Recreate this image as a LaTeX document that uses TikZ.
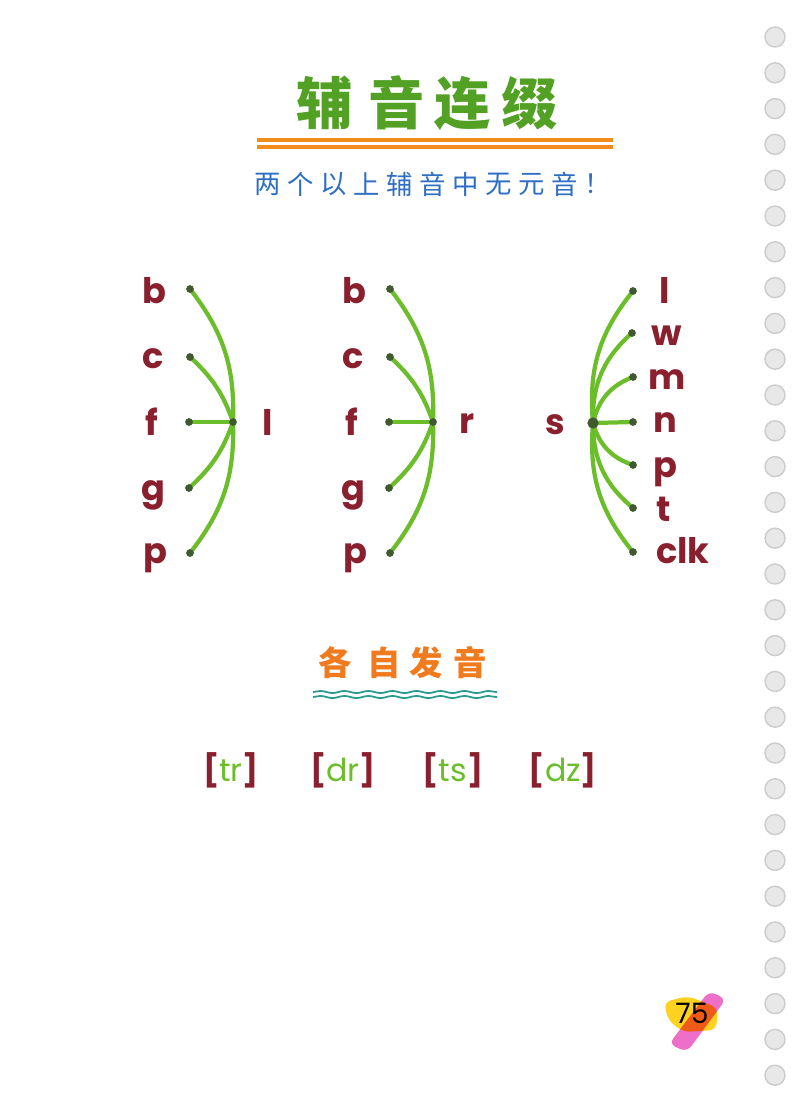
\documentclass[tikz,border=0pt]{standalone}
\usepackage{fontspec}
\setmainfont{Poppins}
\newfontfamily\cjk{Noto Sans CJK SC}
\usetikzlibrary{decorations.pathmorphing}
\definecolor{leafgreen}{HTML}{6BBE2A}
\definecolor{titlegreen}{HTML}{52A024}
\definecolor{inkred}{HTML}{8A1F2E}
\definecolor{inkdot}{HTML}{3E5A2E}
\definecolor{penblue}{HTML}{2E6FC4}
\definecolor{penorange}{HTML}{F07A1E}
\definecolor{lineorange}{HTML}{F28C1C}
\definecolor{penteal}{HTML}{2A9A8C}
\definecolor{hiyellow}{HTML}{FFD21F}
\definecolor{hipink}{HTML}{EE6FC8}
\newcommand{\ipabox}[1]{\textcolor{inkred}{\bfseries[}\textcolor{leafgreen}{#1}\textcolor{inkred}{\bfseries]}}
\tikzset{
	letterstyle/.style={anchor=base,inner sep=0pt,text=inkred,font=\fontsize{10}{12}\selectfont\bfseries},
	fanstyle/.style={draw=leafgreen,line width=1.2pt,line cap=round},
	titlestyle/.style={inner sep=0pt,text=titlegreen,font=\cjk\fontsize{16}{16}\selectfont\bfseries},
	notestyle/.style={inner sep=0pt,text=penblue,font=\cjk\fontsize{7.5}{8}\selectfont},
	headstyle/.style={inner sep=0pt,text=penorange,font=\cjk\fontsize{9.5}{10}\selectfont\bfseries},
	ipastyle/.style={inner sep=0pt,font=\fontsize{9}{10}\selectfont},
	wavestyle/.style={draw=penteal,line width=0.5pt,decorate,decoration={snake,amplitude=0.3pt,segment length=2.4mm}},
	holestyle/.style={fill=black!9,draw=black!20,line width=0.4pt}
}
\begin{document}
\begin{tikzpicture}[x=0.01cm,y=0.01cm]
	\useasboundingbox (0,0) rectangle (800,-1118);
	\fill[white] (0,0) rectangle (800,-1118);
	\foreach \k in {0,...,29}
		\draw[holestyle] (775,-37-35.8*\k) circle (10);
	\node[titlestyle] (t1) at (325,-103) {辅};
	\node[titlestyle] (t2) at (397,-103) {音};
	\node[titlestyle] (t3) at (463,-103) {连};
	\node[titlestyle] (t4) at (530,-103) {缀};
	\draw[lineorange,line width=1pt] (257,-140) -- (613,-140);
	\draw[lineorange,line width=1pt] (257,-147) -- (613,-147);
	\foreach \c [count=\i from 0] in {两,个,以,上,辅,音,中,无,元,音,！}
		\node[notestyle] (n\i) at (268+33*\i,-184) {\c};
	\coordinate (hubL) at (233,-422);
	\coordinate (b1) at (190,-289);
	\coordinate (c1) at (190,-357);
	\coordinate (f1) at (189,-422);
	\coordinate (g1) at (189,-488);
	\coordinate (p1) at (190,-553);
	\node[letterstyle] (lb1) at (154,-303) {b};
	\node[letterstyle] (lc1) at (153,-368) {c};
	\node[letterstyle] (lf1) at (152,-435) {f};
	\node[letterstyle] (lg1) at (153,-500) {g};
	\node[letterstyle] (lp1) at (155,-563) {p};
	\node[letterstyle] (ll) at (268,-435) {l};
	\draw[fanstyle] (b1) to[bend left=20] (hubL) to[bend left=20] (p1);
	\draw[fanstyle] (c1) to[bend left=14] (hubL);
	\draw[fanstyle] (f1) -- (hubL);
	\draw[fanstyle] (g1) to[bend right=14] (hubL);
	\coordinate (hubR) at (433,-422);
	\coordinate (b2) at (390,-289);
	\coordinate (c2) at (390,-357);
	\coordinate (f2) at (389,-422);
	\coordinate (g2) at (389,-488);
	\coordinate (p2) at (390,-553);
	\node[letterstyle] (lb2) at (354,-303) {b};
	\node[letterstyle] (lc2) at (353,-368) {c};
	\node[letterstyle] (lf2) at (352,-435) {f};
	\node[letterstyle] (lg2) at (353,-500) {g};
	\node[letterstyle] (lp2) at (355,-563) {p};
	\node[letterstyle] (lr) at (467,-433) {r};
	\draw[fanstyle] (b2) to[bend left=20] (hubR) to[bend left=20] (p2);
	\draw[fanstyle] (c2) to[bend left=14] (hubR);
	\draw[fanstyle] (f2) -- (hubR);
	\draw[fanstyle] (g2) to[bend right=14] (hubR);
	\coordinate (hubS) at (593,-423);
	\coordinate (l3) at (633,-291);
	\coordinate (w3) at (632,-333);
	\coordinate (m3) at (633,-377);
	\coordinate (n3) at (633,-422);
	\coordinate (p3) at (633,-465);
	\coordinate (t3) at (633,-508);
	\coordinate (k3) at (633,-552);
	\node[letterstyle] (ls) at (555,-434) {s};
	\node[letterstyle] (ll3) at (665,-303) {l};
	\node[letterstyle] (lw3) at (667,-345) {w};
	\node[letterstyle] (lm3) at (667,-389) {m};
	\node[letterstyle] (ln3) at (665,-432) {n};
	\node[letterstyle] (lp3) at (665,-477) {p};
	\node[letterstyle] (lt3) at (664,-521) {t};
	\node[letterstyle] (lk3) at (683,-563) {clk};
	\draw[fanstyle] (hubS) to[bend left=22] (l3);
	\draw[fanstyle] (hubS) to[bend left=25] (w3);
	\draw[fanstyle] (hubS) to[bend left=28] (m3);
	\draw[fanstyle] (hubS) -- (n3);
	\draw[fanstyle] (hubS) to[bend right=28] (p3);
	\draw[fanstyle] (hubS) to[bend right=25] (t3);
	\draw[fanstyle] (hubS) to[bend right=22] (k3);
	\fill[inkdot] (b1) circle (1.1pt) (c1) circle (1.1pt) (f1) circle (1.1pt) (g1) circle (1.1pt) (p1) circle (1.1pt) (hubL) circle (1.1pt);
	\fill[inkdot] (b2) circle (1.1pt) (c2) circle (1.1pt) (f2) circle (1.1pt) (g2) circle (1.1pt) (p2) circle (1.1pt) (hubR) circle (1.1pt);
	\fill[inkdot] (l3) circle (1.1pt) (w3) circle (1.1pt) (m3) circle (1.1pt) (n3) circle (1.1pt) (p3) circle (1.1pt) (t3) circle (1.1pt) (k3) circle (1.1pt) (hubS) circle (1.6pt);
	\node[headstyle] (h1) at (335,-663) {各};
	\node[headstyle] (h2) at (384,-663) {自};
	\node[headstyle] (h3) at (426,-663) {发};
	\node[headstyle] (h4) at (470,-663) {音};
	\draw[wavestyle] (313,-692) -- (497,-692);
	\draw[wavestyle] (313,-697) -- (497,-697);
	\node[ipastyle] (i1) at (231,-770) {\ipabox{tr}};
	\node[ipastyle] (i2) at (343,-770) {\ipabox{dr}};
	\node[ipastyle] (i3) at (453,-770) {\ipabox{ts}};
	\node[ipastyle] (i4) at (563,-770) {\ipabox{dz}};
	\begin{scope}[blend group=multiply]
		\fill[hiyellow,rounded corners=2pt] (664,-1002) -- (688,-996) -- (718,-1008) -- (716,-1030) -- (683,-1032) -- (668,-1020) -- cycle;
		\fill[hipink,rounded corners=2pt] (709,-991) -- (726,-999) -- (687,-1052) -- (669,-1044) -- cycle;
	\end{scope}
	\node[inner sep=0pt,font=\fontsize{8}{9}\selectfont] (pg) at (692,-1013) {75};
\end{tikzpicture}
\end{document}
